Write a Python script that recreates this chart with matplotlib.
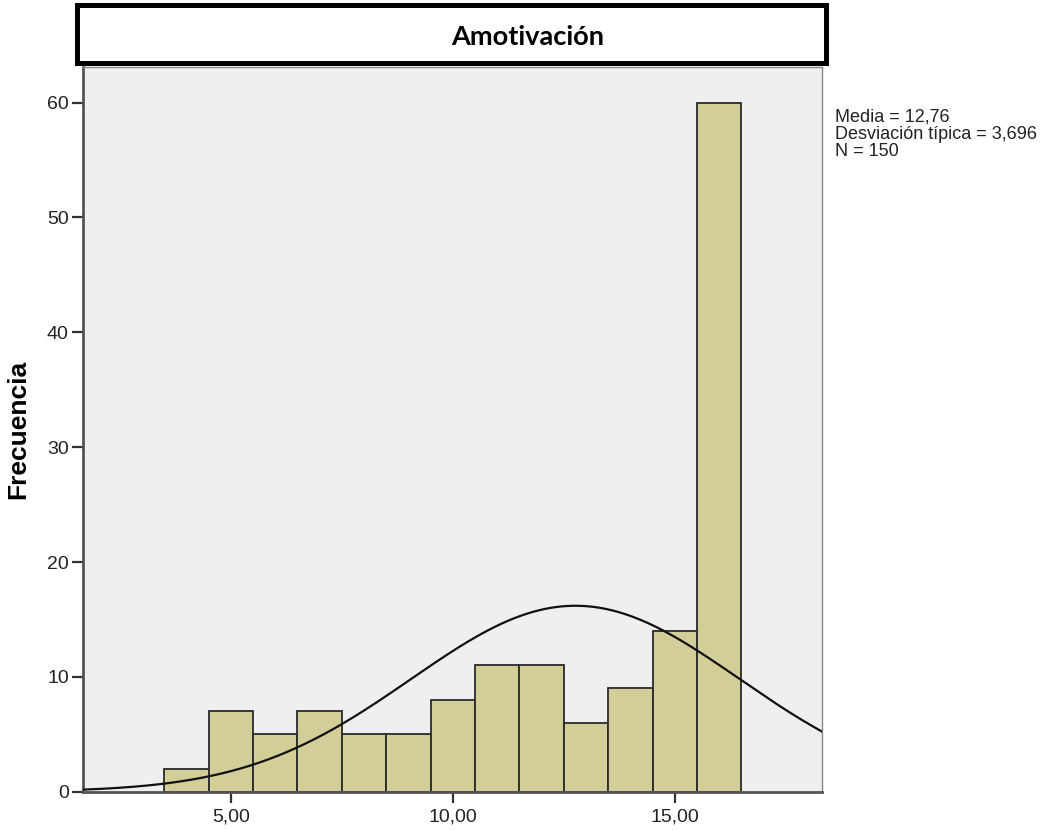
import numpy as np
import matplotlib
matplotlib.use("Agg")
import matplotlib.pyplot as plt
from matplotlib.patches import Rectangle

# ---- data ----
values = [4, 5, 6, 7, 8, 9, 10, 11, 12, 13, 14, 15, 16]
counts = [2, 7, 5, 7, 5, 5, 8, 11, 11, 6, 9, 14, 60]
mean = 12.76
sd = 3.696
n = 150
xtick_values = [5, 10, 15]
xtick_labels = ["5,00", "10,00", "15,00"]
ytick_values = [0, 10, 20, 30, 40, 50, 60]
title = "Amotivación"
ylabel = "Frecuencia"
stats_lines = ["Media = 12,76", "Desviación típica = 3,696", "N = 150"]

W, H = 1051, 831
fig = plt.figure(figsize=(W / 100, H / 100), dpi=100)
fig.patch.set_facecolor("white")

def fx(px):
    return px / W

def fy(py):
    return 1 - py / H

ax = fig.add_axes([fx(82.7), fy(791.7), fx(822.3) - fx(82.7), fy(66.7) - fy(791.7)])
ax.set_facecolor("#EFEFEF")

ax.bar(values, counts, width=1.0, align="center", color="#D3CE97",
       edgecolor="#2a2a2a", linewidth=1.3, zorder=2)

xlim = (1.667, 18.32)
xs = np.linspace(xlim[0], xlim[1], 400)
binw = 1.0
ys = n * binw / (sd * np.sqrt(2 * np.pi)) * np.exp(-0.5 * ((xs - mean) / sd) ** 2)
ax.plot(xs, ys, color="#111111", linewidth=1.6, zorder=3)

ax.set_xlim(*xlim)
ax.set_ylim(0, 63.13)

ax.set_xticks(xtick_values)
ax.set_xticklabels(xtick_labels)
ax.set_yticks(ytick_values)
ax.set_yticklabels([str(v) for v in ytick_values])

for lab in ax.get_xticklabels() + ax.get_yticklabels():
    lab.set_fontfamily("Liberation Sans")
    lab.set_fontsize(14)
    lab.set_color("#222222")

ax.tick_params(axis="both", direction="out", length=8, width=1.6, color="#333333")
ax.tick_params(axis="x", pad=4)
ax.tick_params(axis="y", pad=2)

for side in ["left", "bottom"]:
    ax.spines[side].set_color("#555555")
    ax.spines[side].set_linewidth(2.0)
for side in ["top", "right"]:
    ax.spines[side].set_color("#888888")
    ax.spines[side].set_linewidth(1.0)

# Title box
rect = Rectangle((fx(76.5), fy(62.5)), fx(826.5) - fx(76.5), fy(5) - fy(62.5),
                 transform=fig.transFigure, facecolor="white", edgecolor="black",
                 linewidth=3.6, zorder=5)
fig.patches.append(rect)
fig.text(fx(528), fy(45), title, ha="center", va="baseline",
         family="Lato", fontweight="bold", fontsize=19.6, zorder=6)

# Y label
fig.text(fx(18), fy(429), ylabel, rotation=90, ha="center", va="center",
         family="Liberation Sans", fontweight="bold", fontsize=19)

# Stats
for line, base in zip(stats_lines, [122, 139, 156]):
    fig.text(fx(835), fy(base), line, ha="left", va="baseline",
             family="Liberation Sans", fontsize=13, color="#222222")

fig.savefig("out.png", dpi=100)
